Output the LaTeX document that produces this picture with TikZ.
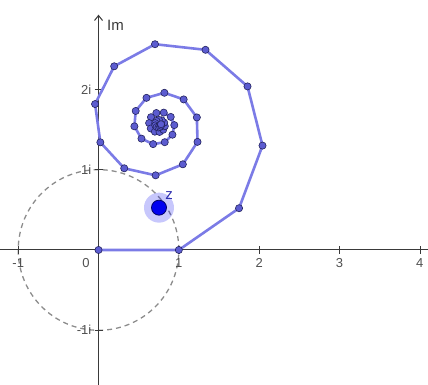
\documentclass[tikz,border=0pt]{standalone}
\usepackage{fontspec}
\setmainfont{Liberation Sans}
\usetikzlibrary{arrows.meta}
\definecolor{SpiralLine}{HTML}{7B7BE6}
\definecolor{SpiralDot}{HTML}{5C5CD0}
\definecolor{DotEdge}{HTML}{23235E}
\definecolor{AxisGray}{HTML}{3A3A3A}
\definecolor{LabelGray}{HTML}{505050}
\definecolor{CircleGray}{HTML}{8C8C8C}
\definecolor{PointBlue}{HTML}{0000F0}
\definecolor{ZLabel}{HTML}{3030B0}

\begin{document}
\begin{tikzpicture}[x=80.3pt, y=80.3pt,
  ticklabel/.style={text=LabelGray, font=\fontsize{13}{15}\selectfont, inner sep=0pt},
  sumdot/.style={fill=SpiralDot, draw=DotEdge, line width=0.6pt}]
  \useasboundingbox (-1.227,-1.681) rectangle (4.103,3.113);

  % Unit circle
  \draw[CircleGray, line width=1.3pt, dash pattern=on 5pt off 4pt] (0,0) circle (1);

  % Axes
  \draw[AxisGray, line width=1pt] (-1.227,0) -- (4.103,0);
  \draw[AxisGray, line width=1pt, -{Straight Barb[length=5pt,width=8pt]}] (0,-1.681) -- (0,2.93);
  \node[text=AxisGray, font=\fontsize{15}{17}\selectfont, inner sep=0pt, anchor=west] (imlabel) at (0.105,2.795) {Im};

  % Ticks and labels
  \foreach \x in {-1,1,2,3,4} {
    \draw[AxisGray] (\x,-0.05) -- (\x,0.05);
    \node[ticklabel] (tx\x) at (\x,-0.162) {\x};
  }
  \node[ticklabel] (tx0) at (-0.156,-0.162) {0};
  \foreach \y/\l in {-1/-1i, 1/1i, 2/2i} {
    \draw[AxisGray] (-0.05,\y) -- (0.05,\y);
    \node[ticklabel, anchor=east] (ty\y) at (-0.087,\y) {\l};
  }

  % Partial sums 1 + z + z^2 + ...
  \coordinate (p0) at (0,0);
  \gdef\sumre{0}\gdef\sumim{0}\gdef\powre{1}\gdef\powim{0}
  \foreach \n in {1,...,45} {
    \pgfmathsetmacro\nextre{\sumre+\powre}
    \pgfmathsetmacro\nextim{\sumim+\powim}
    \pgfmathsetmacro\nextpowre{0.75*\powre-0.52*\powim}
    \pgfmathsetmacro\nextpowim{0.52*\powre+0.75*\powim}
    \coordinate (p\n) at (\nextre,\nextim);
    \xdef\sumre{\nextre}\xdef\sumim{\nextim}
    \xdef\powre{\nextpowre}\xdef\powim{\nextpowim}
  }
  \draw[SpiralLine, line width=2.6pt, line join=round] (p0) \foreach \n in {1,...,45} { -- (p\n) };
  \foreach \n in {0,...,45} \filldraw[sumdot] (p\n) circle (3.6pt);

  % The point z
  \coordinate (z) at (0.753,0.527);
  \fill[PointBlue, opacity=0.22] (z) circle (15pt);
  \filldraw[fill=PointBlue, draw=black!60!blue, line width=0.8pt] (z) circle (7.5pt);
  \node[text=ZLabel, font=\fontsize{15}{17}\selectfont, inner sep=0pt] (zlabel) at (0.878,0.672) {z};
\end{tikzpicture}
\end{document}
